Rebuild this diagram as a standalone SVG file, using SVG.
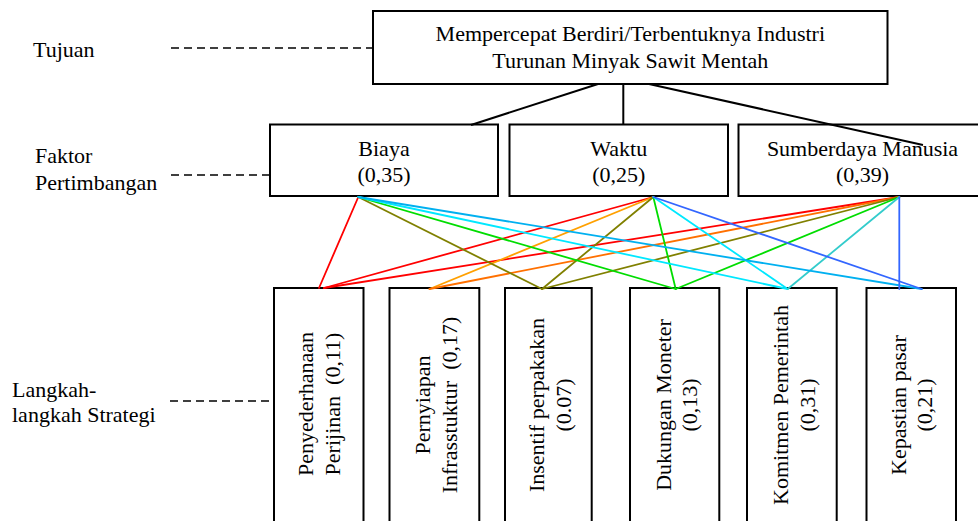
<svg xmlns="http://www.w3.org/2000/svg" width="978" height="521" viewBox="0 0 978 521">
<style>
.box{fill:#fff;stroke:#000;stroke-width:2}
.t{font-family:"Liberation Serif","Times New Roman",serif;font-size:22px;fill:#000}
.c{text-anchor:middle}
.dash{stroke:#000;stroke-width:1.5;stroke-dasharray:8 5;fill:none}
.k{stroke:#000;stroke-width:2;fill:none}
.e{stroke-width:1.8;fill:none;stroke-linecap:round}
.red{stroke:#FF0000}.or1{stroke:#FFA000}.or2{stroke:#FF7000}.ol{stroke:#808000}.gr{stroke:#00DD00}
.cy{stroke:#00E8FF}.tq{stroke:#33CCCC}.sky{stroke:#00B0F0}.bl{stroke:#3366FF}
</style>
<rect width="978" height="521" fill="#fff"/>
<g id="levels">
<text class="t" x="33" y="57">Tujuan</text>
<text class="t" x="35" y="163">Faktor</text>
<text class="t" x="35" y="190">Pertimbangan</text>
<text class="t" x="12" y="397">Langkah-</text>
<text class="t" x="12" y="422">langkah Strategi</text>
<line class="dash" x1="171" y1="48" x2="373" y2="48"/>
<line class="dash" x1="171" y1="175" x2="270" y2="175"/>
<line class="dash" x1="170" y1="401" x2="274" y2="401"/>
</g>
<g id="goal">
<rect class="box" x="373" y="11" width="514.5" height="73"/>
<text class="t c" x="630.3" y="41">Mempercepat Berdiri/Terbentuknya Industri</text>
<text class="t c" x="630.3" y="68">Turunan Minyak Sawit Mentah</text>
</g>
<g id="biaya">
<rect class="box" x="270" y="124.5" width="228" height="71.5"/>
<text class="t c" x="384" y="156">Biaya</text>
<text class="t c" x="384" y="182">(0,35)</text>
</g>
<g id="waktu">
<rect class="box" x="509.5" y="124.5" width="218.5" height="71.5"/>
<text class="t c" x="618.8" y="156">Waktu</text>
<text class="t c" x="618.8" y="182">(0,25)</text>
</g>
<g id="sdm">
<rect class="box" x="738.5" y="124.5" width="248" height="71.5"/>
<text class="t c" x="862.5" y="156">Sumberdaya Manusia</text>
<text class="t c" x="862.5" y="182">(0,39)</text>
</g>
<g id="s1">
<rect class="box" x="274" y="288" width="89.5" height="250"/>
<text class="t c" transform="translate(313.3,404) rotate(-90)">Penyederhanaan</text>
<text class="t c" transform="translate(340,404) rotate(-90)" xml:space="preserve">Perijinan  (0,11)</text>
</g>
<g id="s2">
<rect class="box" x="389.5" y="288" width="89.8" height="250"/>
<text class="t c" transform="translate(430,405) rotate(-90)">Pernyiapan</text>
<text class="t c" transform="translate(456.7,405) rotate(-90)" xml:space="preserve">Infrasstuktur  (0,17)</text>
</g>
<g id="s3">
<rect class="box" x="505" y="288" width="86.7" height="250"/>
<text class="t c" transform="translate(544,405) rotate(-90)">Insentif perpakakan</text>
<text class="t c" transform="translate(570.7,405) rotate(-90)">(0.07)</text>
</g>
<g id="s4">
<rect class="box" x="630" y="288" width="89.3" height="250"/>
<text class="t c" transform="translate(671,405) rotate(-90)">Dukungan Moneter</text>
<text class="t c" transform="translate(697.3,405) rotate(-90)">(0,13)</text>
</g>
<g id="s5">
<rect class="box" x="747" y="288" width="89.7" height="250"/>
<text class="t c" transform="translate(787.7,405) rotate(-90)">Komitmen Pemerintah</text>
<text class="t c" transform="translate(815,405) rotate(-90)">(0,31)</text>
</g>
<g id="s6">
<rect class="box" x="866.5" y="288" width="89.5" height="250"/>
<text class="t c" transform="translate(906,405) rotate(-90)">Kepastian pasar</text>
<text class="t c" transform="translate(931.7,405) rotate(-90)">(0,21)</text>
</g>
<g id="connectors">
<line class="k" x1="598" y1="84" x2="471" y2="125"/>
<line class="k" x1="623.3" y1="84" x2="623.3" y2="125"/>
<line class="k" x1="649" y1="84" x2="923" y2="145"/>
<line class="e red" x1="358.3" y1="197" x2="319" y2="288"/>
<line class="e red" x1="653.3" y1="197" x2="324" y2="288"/>
<line class="e red" x1="899.3" y1="197" x2="324" y2="288"/>
<line class="e or1" x1="653.3" y1="197" x2="429.5" y2="289"/>
<line class="e or2" x1="899.3" y1="197" x2="429.5" y2="289"/>
<line class="e ol" x1="358.3" y1="197" x2="542" y2="289"/>
<line class="e ol" x1="653.3" y1="197" x2="542" y2="289"/>
<line class="e ol" x1="899.3" y1="197" x2="542" y2="289"/>
<line class="e gr" x1="358.3" y1="197" x2="675.7" y2="289"/>
<line class="e gr" x1="653.3" y1="197" x2="675.7" y2="289"/>
<line class="e gr" x1="899.3" y1="197" x2="675.7" y2="289"/>
<line class="e cy" x1="358.3" y1="197" x2="787.7" y2="289"/>
<line class="e cy" x1="653.3" y1="197" x2="787.7" y2="289"/>
<line class="e tq" x1="899.3" y1="197" x2="787.7" y2="289"/>
<line class="e sky" x1="358.3" y1="197" x2="921.7" y2="289"/>
<line class="e bl" x1="653.3" y1="197" x2="921.7" y2="289"/>
<line class="e bl" x1="899.3" y1="197" x2="899.3" y2="289"/>
</g>
</svg>
